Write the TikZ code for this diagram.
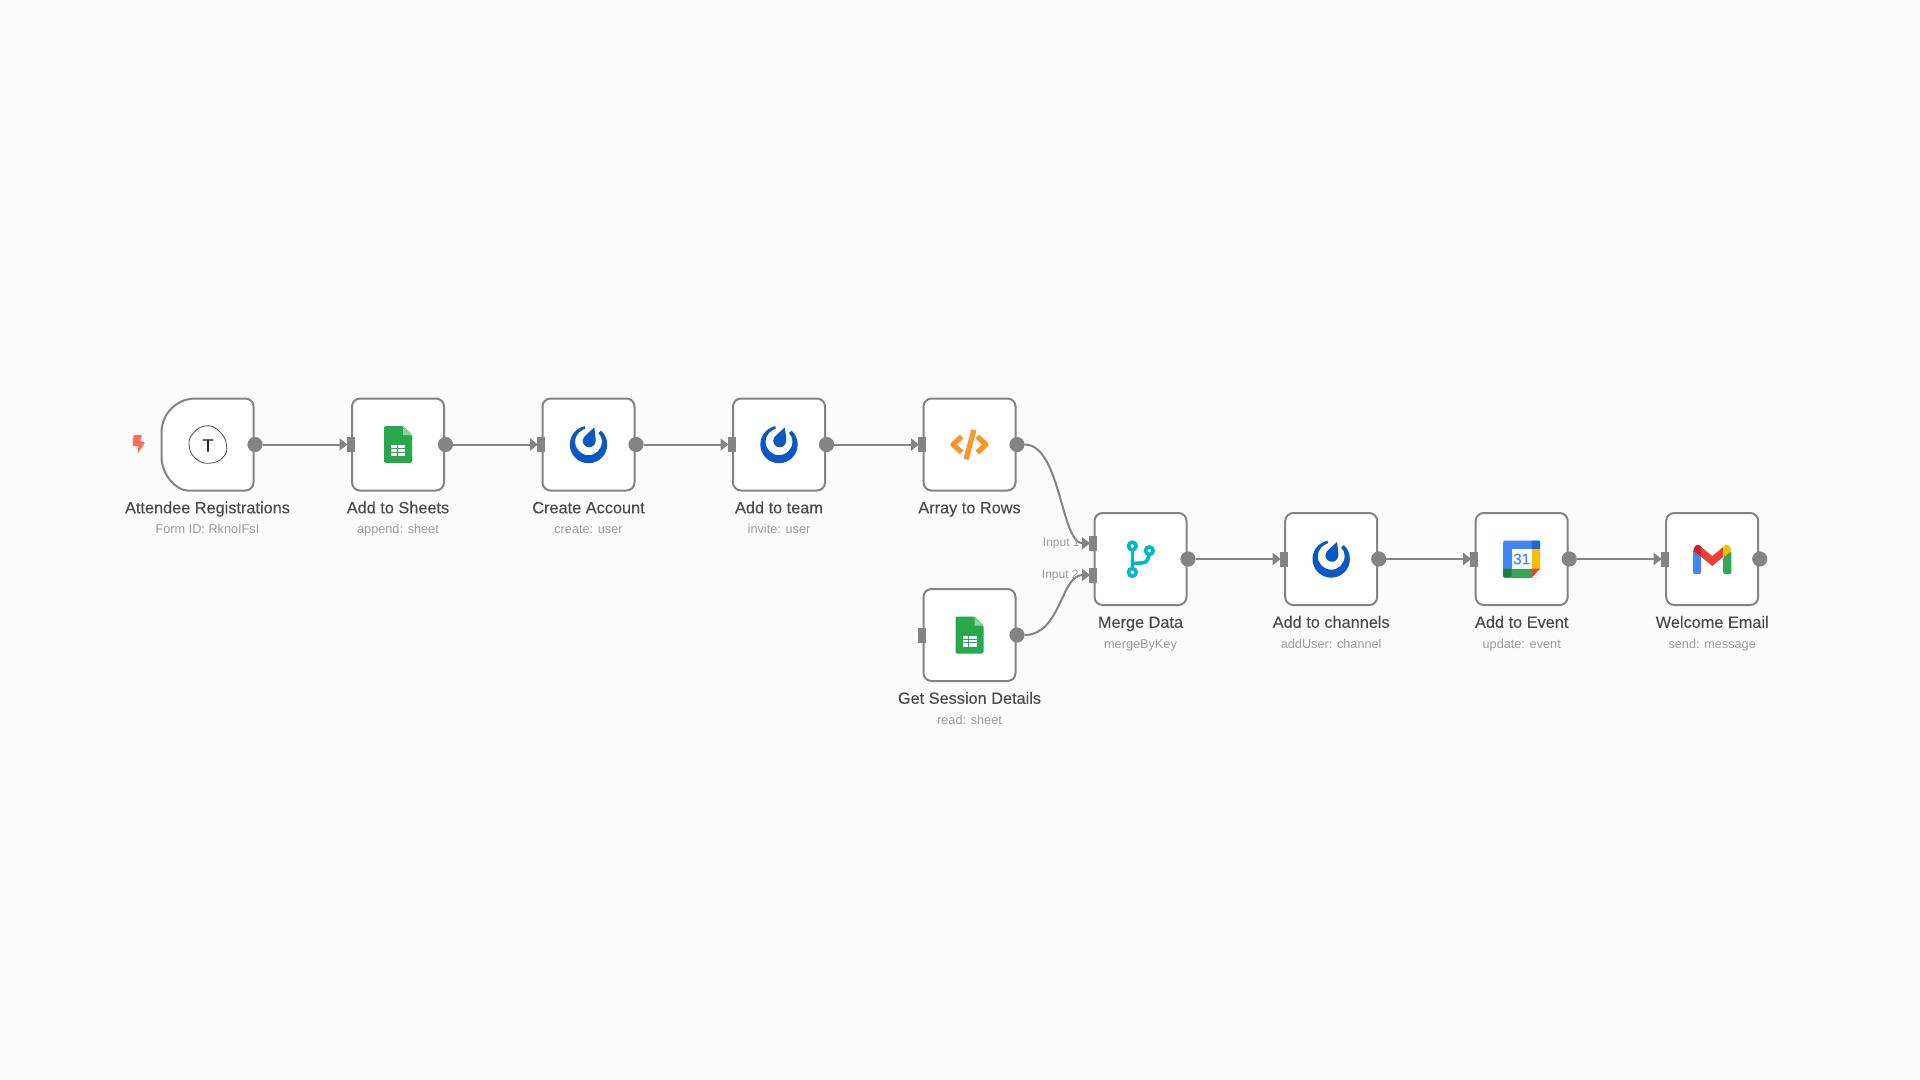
\documentclass[tikz,border=0pt]{standalone}
\usepackage{fontspec}
\setmainfont{Liberation Sans}
\newfontfamily\titlefont[FakeBold=0.12]{Liberation Sans}
\usetikzlibrary{arrows.meta}
\definecolor{bgc}{HTML}{FBFBFB}
\definecolor{edgec}{HTML}{848486}
\definecolor{portc}{HTML}{848486}
\definecolor{titlec}{HTML}{4A4B4D}
\definecolor{subc}{HTML}{9C9C9E}
\definecolor{boltc}{HTML}{FF6D5A}
\definecolor{mmblue}{HTML}{0A58C4}
\definecolor{sheetg}{HTML}{27A84C}
\definecolor{sheetl}{HTML}{8FD0A2}
\definecolor{codeo}{HTML}{F8962B}
\definecolor{mergec}{HTML}{00B8CC}
\definecolor{gblue}{HTML}{4285F4}
\definecolor{gred}{HTML}{EA4335}
\definecolor{gyellow}{HTML}{FBBC04}
\definecolor{ggreen}{HTML}{34A853}
\definecolor{gdblue}{HTML}{1967D2}
\definecolor{gdgreen}{HTML}{188038}
\definecolor{gdred}{HTML}{C5221F}
\tikzset{
  nodebox/.style={draw=edgec,fill=white,line width=1pt,rounded corners=4pt,minimum width=46pt,minimum height=46pt,inner sep=0pt,outer sep=0pt},
  triggerbox/.style={minimum width=46pt,minimum height=46pt,inner sep=0pt,outer sep=0pt},
  triggerline/.style={draw=edgec,fill=white,line width=1pt},
  outport/.style={circle,fill=portc,minimum size=7.6pt,inner sep=0pt,outer sep=0pt},
  inport/.style={rectangle,fill=portc,minimum width=4pt,minimum height=7.5pt,inner sep=0pt,outer sep=0pt},
  conn/.style={draw=edgec,line width=1pt,shorten >=-0.5pt,-{Triangle[length=4pt,width=6pt]}},
  nodetitle/.style={anchor=base,font=\titlefont\fontsize{8.15}{10}\selectfont,text=titlec,inner sep=0pt},
  nodesub/.style={anchor=base,font=\fontsize{6.35}{8}\selectfont,text=subc,inner sep=0pt},
  inlabel/.style={anchor=east,font=\fontsize{6}{7}\selectfont,text=subc,inner sep=0pt},
}
\newcommand{\flowhead}[4]{%
  \node[outport] (#1o) at (#2+47.5,#3) {};
  \node[nodetitle] (#1t) at (#2,#3+68.8) {#4};}
\newcommand{\flowtext}[5]{%
  \flowhead{#1}{#2}{#3}{#4}
  \node[nodesub] (#1s) at (#2,#3+89.3) {#5};}
\newcommand{\flownode}[5]{%
  \node[nodebox] (#1) at (#2,#3) {};
  \node[inport] (#1i) at (#2-47.5,#3) {};
  \flowtext{#1}{#2}{#3}{#4}{#5}}
\newcommand{\iconsheets}[1]{\begin{scope}[shift={(#1)}]
  \fill[sheetg,rounded corners=0.7pt] (-14,-18.5) -- (5,-18.5) -- (14,-9.5) -- (14,18.5) -- (-14,18.5) -- cycle;
  \fill[sheetl] (5,-18.5) -- (14,-9.5) -- (5,-9.5) -- cycle;
  \fill[white] (-7,0.5) rectangle (7,11.5);
  \draw[sheetg,line width=0.5pt] (-7,4.2) -- (7,4.2) (-7,7.8) -- (7,7.8) (-1,0.5) -- (-1,11.5);
\end{scope}}
\newcommand{\iconmm}[1]{\begin{scope}[shift={(#1)}]
  \fill[mmblue,even odd rule] (0,0) circle (18.7) (0,-2.7) circle (13.4);
  \fill[white] (0,-3) -- (-5,-24) -- (14,-24) -- (12.5,-14) -- cycle;
  \fill[mmblue] (5.8,-17) .. controls (6.4,-11) and (7.4,-8) .. (7.2,-4) .. controls (7.2,0) and (3.8,2.8) .. (0.8,2.8) .. controls (-2.8,2.8) and (-5.8,-0.2) .. (-5.8,-3.8) .. controls (-5.8,-6.5) and (-3.8,-8.5) .. (-1.8,-10.2) -- cycle;
\end{scope}}
\begin{document}
\begin{tikzpicture}[x=0.5pt,y=-0.5pt]
\useasboundingbox (0,0) rectangle (1920,1080);
\fill[bgc] (0,0) rectangle (1920,1080);

% trigger node
\node[triggerbox] (n1) at (207.5,444.5) {};
\filldraw[triggerline] ([xshift=17pt]n1.north west) [rounded corners=4pt] -- (n1.north east) -- (n1.south east) -- ([xshift=17pt]n1.south west) [sharp corners] .. controls ([xshift=7.6pt]n1.south west) and ([yshift=7.6pt]n1.south west) .. ([yshift=17pt]n1.south west) -- ([yshift=-17pt]n1.north west) .. controls ([yshift=-7.6pt]n1.north west) and ([xshift=7.6pt]n1.north west) .. ([xshift=17pt]n1.north west) -- cycle;
\flowtext{n1}{207.5}{444.5}{Attendee Registrations}{Form ID: RknoIFsI}
\fill[boltc,rounded corners=0.4pt] (133.5,435) -- (142,435) -- (140,441) -- (145,442.5) -- (137.5,454) -- (138.5,446) -- (132.5,446) -- cycle;
\draw[black!70,line width=0.4pt] plot[smooth cycle,tension=0.8] coordinates {(206.5,425.8) (219.5,431.5) (226.5,444.8) (223.2,457.2) (209.8,463.2) (196.5,459.2) (189.2,446.5) (193.2,433.2)};
\node[font=\titlefont\fontsize{9}{10}\selectfont,text=black!85,inner sep=0pt] (n1T) at (208,445.5) {T};

% other nodes
\flownode{n2}{398}{444.5}{Add to Sheets}{append: sheet}
\flownode{n3}{588.5}{444.5}{Create Account}{create: user}
\flownode{n4}{779}{444.5}{Add to team}{invite: user}
\node[nodebox] (n5) at (969.5,444.5) {};
\node[inport] (n5i) at (922,444.5) {};
\flowhead{n5}{969.5}{444.5}{Array to Rows}
\flownode{n6}{969.5}{635}{Get Session Details}{read: sheet}
% merge node, two inputs
\node[nodebox] (n7) at (1140.5,559) {};
\node[inport] (n7a) at (1093,543.3) {};
\node[inport] (n7b) at (1093,575) {};
\flowtext{n7}{1140.5}{559}{Merge Data}{mergeByKey}
\flownode{n8}{1331.2}{559}{Add to channels}{addUser: channel}
\flownode{n9}{1521.7}{559}{Add to Event}{update: event}
\flownode{n10}{1712.2}{559}{Welcome Email}{send: message}

% icons
\iconsheets{n2}
\iconsheets{n6}
\iconmm{n3}
\iconmm{n4}
\iconmm{n8}
% code icon
\begin{scope}[shift={(n5)},codeo,line width=2.6pt,line join=round]
  \draw (-7.8,-8) -- (-16.5,0) -- (-7.8,8);
  \draw (7.8,-8) -- (16.5,0) -- (7.8,8);
  \draw (4.3,-14.5) -- (-3.5,14.8);
\end{scope}
% merge icon
\begin{scope}[shift={(n7)},mergec,line width=1.8pt]
  \draw (-8.2,-13) -- (-8.2,13.3);
  \draw (8.8,-8.3) .. controls (8.8,1) and (6,4) .. (1,4) -- (-8.2,4.6);
  \filldraw[fill=white] (-8.2,-13) circle (3.8);
  \filldraw[fill=white] (8.8,-8.3) circle (3.8);
  \filldraw[fill=white] (-8.2,13.3) circle (3.8);
\end{scope}
% calendar icon
\begin{scope}[shift={(n9)}]
  \fill[gblue,rounded corners=1pt] (-18.5,-18.5) rectangle (18.5,18.5);
  \fill[white] (-10,-10) rectangle (10,9.5);
  \fill[gdblue,rounded corners=0.6pt] (10,-18.5) rectangle (18.5,-10);
  \fill[gyellow] (10,-10) rectangle (18.5,9.5);
  \fill[ggreen] (-10,9.5) rectangle (10,18.5);
  \fill[gdgreen,rounded corners=0.6pt] (-18.5,9.5) rectangle (-10,18.5);
  \fill[white] (10,18.5) -- (18.5,9.5) -- (18.5,18.5) -- cycle;
  \fill[gred] (10,9.5) -- (18.5,9.5) -- (10,18.5) -- cycle;
  \node[font=\titlefont\fontsize{7.6}{8}\selectfont,text=gblue,inner sep=0pt] (n9c) at (0,0) {31};
\end{scope}
% gmail icon
\begin{scope}[shift={(n10)}]
  \fill[gblue,rounded corners=0.7pt] (-19,-8) -- (-11,-2) -- (-11,15) -- (-19,15) -- cycle;
  \fill[ggreen,rounded corners=0.7pt] (11,-2) -- (19.2,-8) -- (19.2,15) -- (11,15) -- cycle;
  \fill[gred] (-11,-12) -- (0,-3) -- (11,-12) -- (11,-2) -- (0,7) -- (-11,-2) -- cycle;
  \fill[gdred] (-19,-7) .. controls (-19,-13.5) and (-14,-17) .. (-11,-12) -- (-11,-2) -- (-19,-8) -- cycle;
  \fill[gyellow] (19.2,-7) .. controls (19.2,-13.5) and (14,-17) .. (11,-12) -- (11,-2) -- (19.2,-8) -- cycle;
\end{scope}

% connectors
\draw[conn] (n1o) -- (n2i);
\draw[conn] (n2o) -- (n3i);
\draw[conn] (n3o) -- (n4i);
\draw[conn] (n4o) -- (n5i);
\draw[conn] (n5o.east) .. controls +(36,0) and +(-28,0) .. (n7a.west);
\draw[conn] (n6o.east) .. controls +(36,0) and +(-28,0) .. (n7b.west);
\draw[conn] (n7o) -- (n8i);
\draw[conn] (n8o) -- (n9i);
\draw[conn] (n9o) -- (n10i);

% input labels
\node[inlabel] (l1) at (1080,543.6) {Input 1};
\node[inlabel] (l2) at (1079,576) {Input 2};
\end{tikzpicture}
\end{document}
